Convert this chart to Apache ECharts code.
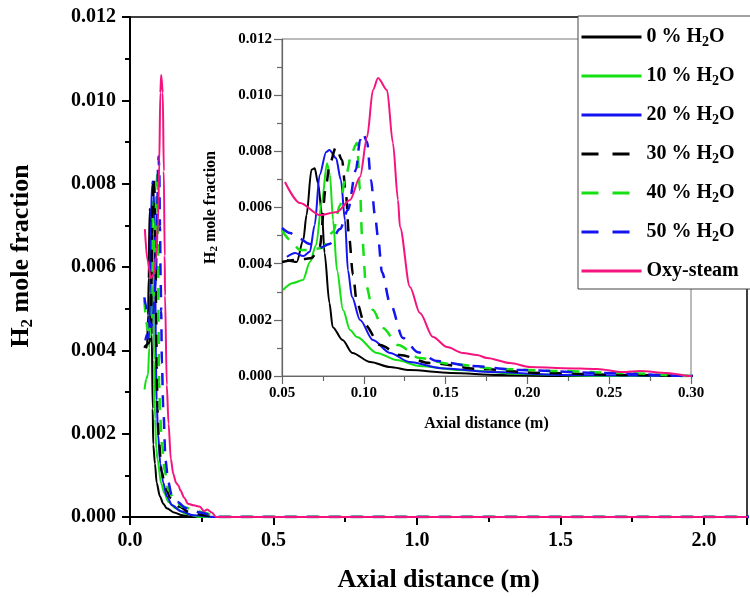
<!DOCTYPE html>
<html>
<head>
<meta charset="utf-8">
<script src="https://cdn.jsdelivr.net/npm/echarts@6/dist/echarts.min.js"></script>
<style>
  html, body { margin: 0; padding: 0; background: #fff; }
  #chart { width: 750px; height: 598px; }
</style>
</head>
<body>
<div id="chart"></div>
<script>
// series names
const names = ['0 % H2O', '10 % H2O', '20 % H2O', '30 % H2O', '40 % H2O', '50 % H2O', 'Oxy-steam']

// axial distance (m) / H2 mole fraction
const h2o0X = [0.053, 0.059, 0.063, 0.065, 0.068, 0.070, 0.072, 0.0745, 0.076, 0.079, 0.081, 0.087, 0.093, 0.104, 0.116, 0.128, 0.153, 0.183, 0.22, 0.30]
const h2o0Y = [0.00413, 0.00406, 0.00484, 0.00573, 0.00734, 0.0074, 0.00687, 0.00573, 0.00438, 0.0026, 0.00174, 0.00128, 0.00082, 0.0005, 0.00032, 0.00021, 0.00011, 0.00004, 0, 0]

const h2o10X = [0.0506, 0.0567, 0.0628, 0.0671, 0.0708, 0.0745, 0.0775, 0.0793, 0.0812, 0.0836, 0.0873, 0.0916, 0.0958, 0.108, 0.120, 0.134, 0.159, 0.196, 0.244, 0.30]
const h2o10Y = [0.00306, 0.00331, 0.00342, 0.00406, 0.00466, 0.00627, 0.00758, 0.00716, 0.00555, 0.00377, 0.00235, 0.00164, 0.00139, 0.00082, 0.00057, 0.00036, 0.00021, 0.00007, 0, 0]

const h2o20X = [0.053, 0.058, 0.063, 0.067, 0.070, 0.073, 0.077, 0.079, 0.083, 0.086, 0.0885, 0.0903, 0.0928, 0.0977, 0.1056, 0.116, 0.128, 0.147, 0.177, 0.22, 0.30]
const h2o20Y = [0.00424, 0.00438, 0.00427, 0.00442, 0.00538, 0.00716, 0.00798, 0.00805, 0.00776, 0.00698, 0.00555, 0.00377, 0.00281, 0.00199, 0.00128, 0.00082, 0.0005, 0.00028, 0.00014, 0.00004, 0]

const h2o30X = [0.05, 0.058, 0.064, 0.068, 0.073, 0.077, 0.079, 0.083, 0.0867, 0.0891, 0.091, 0.0934, 0.0958, 0.1007, 0.110, 0.122, 0.1405, 0.171, 0.208, 0.257, 0.30]
const h2o30Y = [0.00406, 0.00413, 0.00417, 0.0042, 0.00459, 0.0068, 0.00751, 0.00815, 0.00769, 0.00645, 0.00495, 0.0036, 0.0026, 0.00182, 0.0011, 0.00075, 0.00046, 0.00025, 0.00011, 0.00004, 0]

const h2o40X = [0.05, 0.055, 0.061, 0.067, 0.0745, 0.0812, 0.0855, 0.0891, 0.0928, 0.0958, 0.0977, 0.0989, 0.1013, 0.1056, 0.1117, 0.121, 0.134, 0.153, 0.183, 0.22, 0.257, 0.30]
const h2o40Y = [0.0052, 0.00484, 0.00449, 0.00449, 0.00456, 0.00513, 0.00609, 0.00716, 0.00798, 0.0083, 0.00662, 0.00502, 0.00324, 0.00235, 0.00171, 0.0011, 0.00064, 0.00043, 0.00025, 0.00018, 0.00011, 0]

const h2o50X = [0.05, 0.055, 0.060, 0.067, 0.073, 0.079, 0.0855, 0.0903, 0.0952, 0.0977, 0.0995, 0.102, 0.1044, 0.1068, 0.1087, 0.1111, 0.116, 0.124, 0.133, 0.145, 0.165, 0.1955, 0.244, 0.30]
const h2o50Y = [0.00527, 0.00509, 0.00491, 0.0047, 0.00456, 0.0047, 0.00523, 0.00591, 0.00734, 0.0084, 0.00865, 0.00833, 0.00698, 0.00573, 0.00495, 0.0037, 0.0026, 0.00135, 0.00085, 0.00053, 0.00036, 0.00021, 0.00011, 0]

const oxyX = [0.0518, 0.061, 0.0732, 0.0836, 0.0916, 0.0977, 0.102, 0.1056, 0.1087, 0.1142, 0.1178, 0.1209, 0.1221, 0.1282, 0.1343, 0.1423, 0.1509, 0.1606, 0.1692, 0.1753, 0.1894, 0.2016, 0.2218, 0.2425, 0.2584, 0.2688, 0.2853, 0.30]
const oxyY = [0.00691, 0.00616, 0.00573, 0.00584, 0.00627, 0.00709, 0.00851, 0.01018, 0.01061, 0.01018, 0.0083, 0.00627, 0.00531, 0.00317, 0.00224, 0.00139, 0.00103, 0.00082, 0.00075, 0.00064, 0.00046, 0.00032, 0.00028, 0.00025, 0.00014, 0.00018, 0.00011, 0]

// the profiles run on at zero to the end of the domain
const domainEnd = 2.2

const allX = [h2o0X, h2o10X, h2o20X, h2o30X, h2o40X, h2o50X, oxyX]
const allY = [h2o0Y, h2o10Y, h2o20Y, h2o30Y, h2o40Y, h2o50Y, oxyY]
const colors = ['#000000', '#14e014', '#1414f0', '#000000', '#14e014', '#1414f0', '#f5147f']
const dashed = [false, false, false, true, true, true, false]

const serif = '"Liberation Serif", "Times New Roman", serif'

const subRich = {
  b: { fontFamily: serif, fontWeight: 'bold', fontSize: 20, color: '#000' },
  s: { fontFamily: serif, fontWeight: 'bold', fontSize: 14, color: '#000', padding: [10, 0, 0, 0] },
}

const chartInit = () => {
  let myChart = echarts.init(document.getElementById('chart'))

  const toPairs = (xs, ys) => {
    let d = xs.map((x, i) => [x, ys[i]])
    d.push([domainEnd, 0])
    return d
  }

  let series = []
  ;[0, 1].forEach((g) => {
    names.forEach((name, i) => {
      series.push({
        name: name,
        type: 'line',
        xAxisIndex: g,
        yAxisIndex: g,
        data: toPairs(allX[i], allY[i]),
        smooth: 0.3,
        smoothMonotone: 'x',
        symbol: 'none',
        clip: true,
        lineStyle: {
          color: colors[i],
          width: dashed[i] ? 2.5 : 2,
          type: dashed[i] ? [12, 10] : 'solid',
        },
        itemStyle: { color: colors[i] },
        z: i === 6 ? 4 : 3,
      })
    })
  })

  const axisCommon = (color, fontSize, width) => ({
    axisLine: { show: true, onZero: false, lineStyle: { color: color, width: width } },
    axisTick: { show: true, inside: false, length: 8, lineStyle: { color: color, width: width } },
    minorTick: { show: true, splitNumber: 2, length: 5, lineStyle: { color: color, width: width } },
    splitLine: { show: false },
    axisLabel: { fontFamily: serif, fontWeight: 'bold', fontSize: fontSize, color: '#000' },
  })

  let option = {
    animation: false,
    backgroundColor: '#fff',
    grid: [
      { left: 130, top: 17, right: 1, bottom: 81, show: true, borderColor: '#000', borderWidth: 1.5, backgroundColor: 'transparent' },
      { left: 282, top: 39, width: 409, height: 337, show: true, borderColor: '#777', borderWidth: 1, backgroundColor: '#fff' },
    ],
    legend: {
      orient: 'vertical',
      left: 578,
      top: 16,
      width: 172,
      padding: [11, 12, 8, 2],
      itemWidth: 60,
      itemHeight: 20,
      itemGap: 17,
      backgroundColor: '#fff',
      borderColor: '#444',
      borderWidth: 1,
      z: 10,
      itemStyle: { opacity: 0, borderWidth: 0 },
      lineStyle: { width: 3 },
      data: names.map((n, i) => (dashed[i] ? { name: n, lineStyle: { type: [17, 14], width: 3 } } : { name: n })),
      textStyle: { fontFamily: serif, fontWeight: 'bold', fontSize: 20, color: '#000', rich: subRich },
      formatter: function (name) {
        if (name.indexOf('H2O') < 0) return '{b|' + name + '}'
        return '{b|' + name.replace('H2O', 'H') + '}{s|2}{b|O}'
      },
    },
    xAxis: [
      Object.assign(axisCommon('#000', 20, 2), {
        type: 'value',
        gridIndex: 0,
        min: 0,
        max: 2.15,
        interval: 0.5,
        name: 'Axial distance (m)',
        nameLocation: 'middle',
        nameGap: 50,
        nameTextStyle: { fontFamily: serif, fontWeight: 'bold', fontSize: 26, color: '#000' },
      }),
      Object.assign(axisCommon('#666', 15, 1.2), {
        type: 'value',
        gridIndex: 1,
        min: 0.05,
        max: 0.3,
        interval: 0.05,
        name: 'Axial distance (m)',
        nameLocation: 'middle',
        nameGap: 40,
        nameTextStyle: { fontFamily: serif, fontWeight: 'bold', fontSize: 16, color: '#000' },
      }),
    ],
    yAxis: [
      Object.assign(axisCommon('#000', 20, 2), {
        type: 'value',
        gridIndex: 0,
        min: 0,
        max: 0.012,
        interval: 0.002,
        name: '{b|H}{s|2}{b| mole fraction}',
        nameLocation: 'middle',
        nameGap: 94,
        nameTextStyle: {
          padding: [0, 0, 0, 22],
          rich: {
            b: { fontFamily: serif, fontWeight: 'bold', fontSize: 26, color: '#000' },
            s: { fontFamily: serif, fontWeight: 'bold', fontSize: 17, color: '#000', padding: [12, 0, 0, 0] },
          },
        },
      }),
      Object.assign(axisCommon('#666', 15, 1.2), {
        type: 'value',
        gridIndex: 1,
        min: 0,
        max: 0.012,
        interval: 0.002,
        name: '{b|H}{s|2}{b| mole fraction}',
        nameLocation: 'middle',
        nameGap: 62,
        nameTextStyle: {
          rich: {
            b: { fontFamily: serif, fontWeight: 'bold', fontSize: 16, color: '#000' },
            s: { fontFamily: serif, fontWeight: 'bold', fontSize: 11, color: '#000', padding: [7, 0, 0, 0] },
          },
        },
      }),
    ],
    series: series,
  }

  option.xAxis[0].axisLabel.margin = 14
  option.xAxis[0].axisLabel.formatter = (v) => (Math.abs(v / 0.5 - Math.round(v / 0.5)) < 1e-6 ? v.toFixed(1) : '')
  option.yAxis[0].axisLabel.margin = 14
  option.yAxis[0].axisLabel.formatter = (v) => v.toFixed(3)
  option.xAxis[1].axisLabel.margin = 10
  option.xAxis[1].axisLabel.formatter = (v) => v.toFixed(2)
  option.yAxis[1].axisLabel.margin = 10
  option.yAxis[1].axisLabel.formatter = (v) => v.toFixed(3)

  myChart.setOption(option)
}

chartInit()
</script>
</body>
</html>
